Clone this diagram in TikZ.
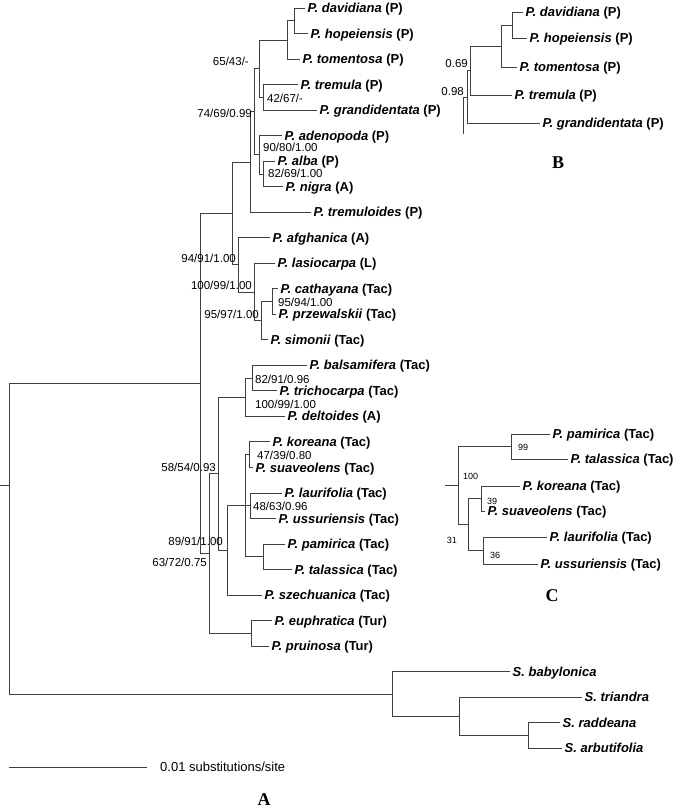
\documentclass[tikz,border=0pt]{standalone}
\usepackage{fontspec}
\setmainfont{Liberation Sans}
\newfontfamily\panelfont{Liberation Serif}
\newcommand{\pop}[2]{\textit{#1} (#2)}
\tikzset{
  branch/.style={draw=black!75, line width=0.75pt},
  taxon/.style={anchor=west, inner sep=2.5pt, text height=9.3pt, text depth=0pt,
    font=\fontsize{13}{15}\selectfont\bfseries},
  boot/.style={inner sep=0pt, text height=8.2pt, text depth=0pt,
    font=\fontsize{11.5}{13}\selectfont},
  bootsm/.style={boot, text height=6.5pt, font=\fontsize{9}{11}\selectfont},
  panel/.style={inner sep=0pt, text height=12pt, text depth=0pt,
    font=\fontsize{18}{22}\selectfont\panelfont\bfseries},
}
\begin{document}
\begin{tikzpicture}[x=1pt, y=-1pt]
\useasboundingbox (0,0) rectangle (686,809);
% Panel A: Populus tips
\node[taxon] (dav) at (305,8.0) {\pop{P. davidiana}{P}};
\node[taxon] (hop) at (308,33.5) {\pop{P. hopeiensis}{P}};
\node[taxon] (tom) at (300,59.0) {\pop{P. tomentosa}{P}};
\node[taxon] (tre) at (298,84.6) {\pop{P. tremula}{P}};
\node[taxon] (gra) at (317,110.1) {\pop{P. grandidentata}{P}};
\node[taxon] (ade) at (282,135.6) {\pop{P. adenopoda}{P}};
\node[taxon] (alb) at (275,161.1) {\pop{P. alba}{P}};
\node[taxon] (nig) at (283,186.6) {\pop{P. nigra}{A}};
\node[taxon] (trm) at (311,212.2) {\pop{P. tremuloides}{P}};
\node[taxon] (afg) at (270,237.7) {\pop{P. afghanica}{A}};
\node[taxon] (las) at (275,263.2) {\pop{P. lasiocarpa}{L}};
\node[taxon] (cat) at (278,288.7) {\pop{P. cathayana}{Tac}};
\node[taxon] (prz) at (276,314.2) {\pop{P. przewalskii}{Tac}};
\node[taxon] (sim) at (268,339.8) {\pop{P. simonii}{Tac}};
\node[taxon] (bal) at (307,365.3) {\pop{P. balsamifera}{Tac}};
\node[taxon] (tri) at (277,390.8) {\pop{P. trichocarpa}{Tac}};
\node[taxon] (del) at (285,416.3) {\pop{P. deltoides}{A}};
\node[taxon] (kor) at (270,441.8) {\pop{P. koreana}{Tac}};
\node[taxon] (sua) at (253,467.4) {\pop{P. suaveolens}{Tac}};
\node[taxon] (lau) at (282,492.9) {\pop{P. laurifolia}{Tac}};
\node[taxon] (uss) at (276,518.4) {\pop{P. ussuriensis}{Tac}};
\node[taxon] (pam) at (285,543.9) {\pop{P. pamirica}{Tac}};
\node[taxon] (tal) at (292,569.4) {\pop{P. talassica}{Tac}};
\node[taxon] (sze) at (262,595.0) {\pop{P. szechuanica}{Tac}};
\node[taxon] (eup) at (272,620.5) {\pop{P. euphratica}{Tur}};
\node[taxon] (pru) at (269,646.0) {\pop{P. pruinosa}{Tur}};
% Panel A: Salix tips
\node[taxon] (bab) at (510,671.5) {\textit{S. babylonica}};
\node[taxon] (tnd) at (582,697.0) {\textit{S. triandra}};
\node[taxon] (rad) at (560,722.6) {\textit{S. raddeana}};
\node[taxon] (arb) at (562,748.1) {\textit{S. arbutifolia}};
% Panel A: inner nodes
\coordinate (dh) at (294,20.8);
\coordinate (dht) at (287,39.9);
\coordinate (tg) at (263,97.3);
\coordinate (P1) at (259,68.6);
\coordinate (an) at (263,173.9);
\coordinate (P2) at (259,154.8);
\coordinate (L2) at (254,111.7);
\coordinate (L) at (250,161.9);
\coordinate (cp) at (272,301.5);
\coordinate (cps) at (261,320.7);
\coordinate (lcps) at (254,292.0);
\coordinate (A2) at (238,264.8);
\coordinate (N2) at (232,213.4);
\coordinate (bt) at (252,378.0);
\coordinate (btd) at (245,397.2);
\coordinate (ks) at (249,454.6);
\coordinate (lu) at (250,505.7);
\coordinate (pt) at (263,556.7);
\coordinate (N6) at (245,505.7);
\coordinate (N5) at (227,550.3);
\coordinate (N4) at (218,473.7);
\coordinate (tur) at (251,633.2);
\coordinate (N3) at (209,553.5);
\coordinate (N1) at (200,383.4);
\coordinate (ra) at (528,735.4);
\coordinate (tra) at (459,716.2);
\coordinate (S) at (392,693.9);
\coordinate (root) at (9,485);
\coordinate (stub) at (0,485);
% Panel A: branches
\draw[branch] (dh) |- (dav.west) (dh) |- (hop.west);
\draw[branch] (dht) |- (dh) (dht) |- (tom.west);
\draw[branch] (tg) |- (tre.west) (tg) |- (gra.west);
\draw[branch] (P1) |- (dht) (P1) |- (tg);
\draw[branch] (an) |- (alb.west) (an) |- (nig.west);
\draw[branch] (P2) |- (ade.west) (P2) |- (an);
\draw[branch] (L2) |- (P1) (L2) |- (P2);
\draw[branch] (L) |- (L2) (L) |- (trm.west);
\draw[branch] (cp) |- (cat.west) (cp) |- (prz.west);
\draw[branch] (cps) |- (cp) (cps) |- (sim.west);
\draw[branch] (lcps) |- (las.west) (lcps) |- (cps);
\draw[branch] (A2) |- (afg.west) (A2) |- (lcps);
\draw[branch] (N2) |- (L) (N2) |- (A2);
\draw[branch] (bt) |- (bal.west) (bt) |- (tri.west);
\draw[branch] (btd) |- (bt) (btd) |- (del.west);
\draw[branch] (ks) |- (kor.west) (ks) |- (sua.west);
\draw[branch] (lu) |- (lau.west) (lu) |- (uss.west);
\draw[branch] (pt) |- (pam.west) (pt) |- (tal.west);
\draw[branch] (N6) |- (ks) (N6) -- (lu) (N6) |- (pt);
\draw[branch] (N5) |- (N6) (N5) |- (sze.west);
\draw[branch] (N4) |- (btd) (N4) |- (N5);
\draw[branch] (tur) |- (eup.west) (tur) |- (pru.west);
\draw[branch] (N3) |- (N4) (N3) |- (tur);
\draw[branch] (N1) |- (N2) (N1) |- (N3);
\draw[branch] (ra) |- (rad.west) (ra) |- (arb.west);
\draw[branch] (tra) |- (tnd.west) (tra) |- (ra);
\draw[branch] (S) |- (bab.west) (S) |- (tra);
\draw[branch] (root) |- (N1) (root) |- (S) (root) -- (stub);
% Panel A: support values
\node[boot, anchor=east] (b65) at (249,61) {65/43/-};
\node[boot, anchor=east] (b74) at (252,113) {74/69/0.99};
\node[boot, anchor=west] (b42) at (267,98) {42/67/-};
\node[boot, anchor=west] (b90) at (263,147) {90/80/1.00};
\node[boot, anchor=west] (b82a) at (268,173) {82/69/1.00};
\node[boot, anchor=east] (b94) at (236,258) {94/91/1.00};
\node[boot, anchor=east] (b100a) at (252,285) {100/99/1.00};
\node[boot, anchor=east] (b95a) at (259,314) {95/97/1.00};
\node[boot, anchor=west] (b95b) at (278,302) {95/94/1.00};
\node[boot, anchor=west] (b82b) at (255,379) {82/91/0.96};
\node[boot, anchor=west] (b100b) at (255,404) {100/99/1.00};
\node[boot, anchor=west] (b47) at (257,455) {47/39/0.80};
\node[boot, anchor=west] (b48) at (253,506) {48/63/0.96};
\node[boot, anchor=east] (b58) at (216,467) {58/54/0.93};
\node[boot, anchor=east] (b89) at (223,541) {89/91/1.00};
\node[boot, anchor=east] (b63) at (207,562) {63/72/0.75};
% Scale bar and panel letter
\coordinate (sb0) at (9,767);
\coordinate (sb1) at (147,767);
\draw[branch] (sb0) -- (sb1);
\node[anchor=west, inner sep=0pt, text height=9.3pt, text depth=0pt,
  font=\fontsize{13}{15}\selectfont] (sbtext) at (160,767) {0.01 substitutions/site};
\node[panel] (labA) at (264,799) {A};
% Panel B
\node[taxon] (Bdav) at (523,12) {\pop{P. davidiana}{P}};
\node[taxon] (Bhop) at (527,38) {\pop{P. hopeiensis}{P}};
\node[taxon] (Btom) at (517,67) {\pop{P. tomentosa}{P}};
\node[taxon] (Btre) at (512,95) {\pop{P. tremula}{P}};
\node[taxon] (Bgra) at (540,123) {\pop{P. grandidentata}{P}};
\coordinate (Bdh) at (512,25);
\coordinate (Bdht) at (501,46);
\coordinate (BP1) at (470,70.5);
\coordinate (BP2) at (467,97);
\coordinate (Bend) at (463,134);
\draw[branch] (Bdh) |- (Bdav.west) (Bdh) |- (Bhop.west);
\draw[branch] (Bdht) |- (Bdh) (Bdht) |- (Btom.west);
\draw[branch] (BP1) |- (Bdht) (BP1) |- (Btre.west);
\draw[branch] (BP2) |- (BP1) (BP2) |- (Bgra.west);
\draw[branch] (Bend) |- (BP2);
\node[boot, anchor=east] (B69) at (468,63) {0.69};
\node[boot, anchor=east] (B98) at (464,91) {0.98};
\node[panel] (labB) at (558,162) {B};
% Panel C
\node[taxon] (Cpam) at (550,434) {\pop{P. pamirica}{Tac}};
\node[taxon] (Ctal) at (568,459) {\pop{P. talassica}{Tac}};
\node[taxon] (Ckor) at (520,486) {\pop{P. koreana}{Tac}};
\node[taxon] (Csua) at (485,511) {\pop{P. suaveolens}{Tac}};
\node[taxon] (Clau) at (547,537) {\pop{P. laurifolia}{Tac}};
\node[taxon] (Cuss) at (538,564) {\pop{P. ussuriensis}{Tac}};
\coordinate (Cpt) at (511,446.5);
\coordinate (Cks) at (481,498.5);
\coordinate (Clu) at (483,550.5);
\coordinate (C1) at (468,524.5);
\coordinate (C0) at (458,485.5);
\coordinate (Cstub) at (445,485.5);
\draw[branch] (Cpt) |- (Cpam.west) (Cpt) |- (Ctal.west);
\draw[branch] (Cks) |- (Ckor.west) (Cks) |- (Csua.west);
\draw[branch] (Clu) |- (Clau.west) (Clu) |- (Cuss.west);
\draw[branch] (C1) |- (Cks) (C1) |- (Clu);
\draw[branch] (C0) |- (Cpt) (C0) |- (C1) (C0) -- (Cstub);
\node[bootsm, anchor=west] (C99) at (518,447) {99};
\node[bootsm, anchor=west] (C100) at (463,476) {100};
\node[bootsm, anchor=west] (C39) at (487,501) {39};
\node[bootsm, anchor=west] (C36) at (490,555) {36};
\node[bootsm, anchor=east] (C31) at (457,540) {31};
\node[panel] (labC) at (552,595) {C};
\end{tikzpicture}
\end{document}
